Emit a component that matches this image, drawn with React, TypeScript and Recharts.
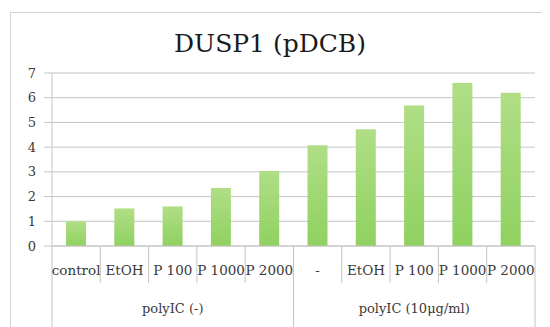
import React from 'react';
import { BarChart, Bar, XAxis, YAxis, CartesianGrid } from 'recharts';

const categories = ['control', 'EtOH', 'P 100', 'P 1000', 'P 2000', '-', 'EtOH', 'P 100', 'P 1000', 'P 2000'];
const values = [1.0, 1.52, 1.6, 2.35, 3.03, 4.08, 4.72, 5.68, 6.6, 6.2];
const groups = ['polyIC (-)', 'polyIC (10μg/ml)'];
const groupSize = 5;
const yTicks = [0, 1, 2, 3, 4, 5, 6, 7];
const title = 'DUSP1 (pDCB)';

const data = categories.map((c, i) => ({ key: i, name: c, value: values[i] }));

const FONT = '"DejaVu Serif", serif';
const LINE = '#c4c4c4';
const TEXT = '#3a3a3a';

const CatTick = (props: any) => {
  const { x, y, payload } = props;
  const i = payload.value as number;
  const off = payload.offset ?? 24;
  const left = x - off;
  const isGroupStart = i % groupSize === 0;
  const isLast = i === categories.length - 1;
  const isGroupCenter = i % groupSize === Math.floor(groupSize / 2);
  return (
    <g>
      <line x1={left} x2={left} y1={y} y2={isGroupStart ? y + 90 : y + 37} stroke={LINE} strokeWidth={1} />
      {isLast && <line x1={x + off} x2={x + off} y1={y} y2={y + 90} stroke={LINE} strokeWidth={1} />}
      <text x={x} y={y + 29} textAnchor="middle" fontFamily={FONT} fontSize={13.5} fill={TEXT}>
        {categories[i]}
      </text>
      {isGroupCenter && (
        <text x={x} y={y + 67} textAnchor="middle" fontFamily={FONT} fontSize={13} fill={TEXT}>
          {groups[Math.floor(i / groupSize)]}
        </text>
      )}
    </g>
  );
};

export default function App() {
  return (
    <div style={{ position: 'relative', width: 542, height: 319 }}>
      <div
        style={{
          position: 'absolute',
          left: 2,
          top: 4,
          width: 537,
          height: 330,
          borderLeft: '1px solid #d4d4d4',
          borderTop: '1px solid #d4d4d4',
          borderRight: '1px solid #d4d4d4',
        }}
      />
      <div
        style={{
          position: 'absolute',
          left: 0,
          top: 23,
          width: 524,
          textAlign: 'center',
          fontFamily: FONT,
          fontSize: 25,
          lineHeight: '25px',
          color: '#1a1a1a',
        }}
      >
        {title}
      </div>
      <BarChart
        width={542}
        height={319}
        data={data}
        margin={{ top: 65, right: 15, left: 0, bottom: 0 }}
        style={{ position: 'absolute', left: 0, top: 0 }}
      >
        <defs>
          <linearGradient id="barGrad" x1="0" y1="0" x2="0" y2="1">
            <stop offset="0%" stopColor="#b0de86" />
            <stop offset="100%" stopColor="#8fd160" />
          </linearGradient>
        </defs>
        <CartesianGrid vertical={false} stroke={LINE} strokeWidth={1} />
        <XAxis
          dataKey="key"
          type="category"
          interval={0}
          height={81}
          tickSize={0}
          tickMargin={0}
          tickLine={false}
          axisLine={{ stroke: LINE }}
          tick={<CatTick />}
        />
        <YAxis
          width={44}
          domain={[0, 7]}
          ticks={yTicks}
          interval={0}
          tickSize={8}
          tickMargin={8}
          axisLine={{ stroke: LINE }}
          tickLine={{ stroke: LINE }}
          tick={{ fontFamily: FONT, fontSize: 13, fill: TEXT }}
        />
        <Bar dataKey="value" fill="url(#barGrad)" barSize={20} isAnimationActive={false} />
      </BarChart>
    </div>
  );
}
